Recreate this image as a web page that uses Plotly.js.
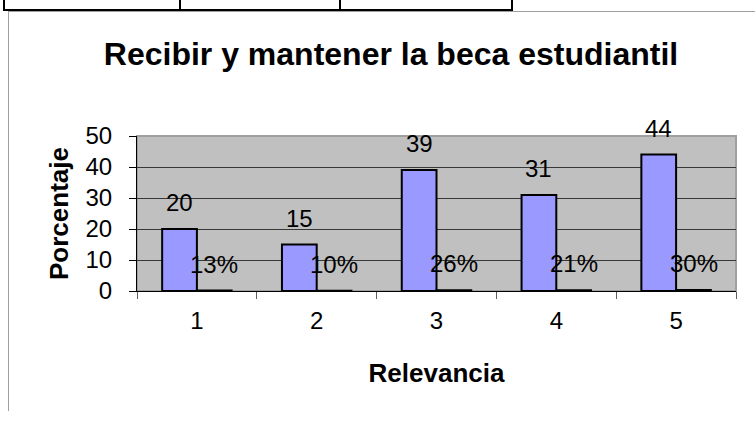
<!DOCTYPE html>
<html>
<head>
<meta charset="utf-8">
<script src="https://cdn.plot.ly/plotly-3.0.1.min.js"></script>
<style>
  html, body { margin: 0; padding: 0; background: #fff; }
  #wrap { position: relative; width: 755px; height: 423px; overflow: hidden; }
  #chart { position: absolute; left: 0; top: 0; width: 755px; height: 423px; }
  .ln { position: absolute; pointer-events: none; }
</style>
</head>
<body>
<div id="wrap">
  <div id="chart"></div>
  <!-- table fragment at top of the page -->
  <div class="ln" style="left:3px;top:9px;width:510px;height:2px;background:#000"></div>
  <div class="ln" style="left:3px;top:0;width:2px;height:11px;background:#000"></div>
  <div class="ln" style="left:179px;top:0;width:2px;height:10px;background:#000"></div>
  <div class="ln" style="left:339px;top:0;width:2px;height:10px;background:#000"></div>
  <div class="ln" style="left:511px;top:0;width:2px;height:11px;background:#000"></div>
  <!-- chart frame -->
  <div class="ln" style="left:8px;top:11px;width:747px;height:1px;background:#a0a0a0"></div>
  <div class="ln" style="left:8px;top:11px;width:1px;height:400px;background:#a0a0a0"></div>
</div>
<script>
const categories = ['1', '2', '3', '4', '5'];
const countValues = [20, 15, 39, 31, 44];
const shareValues = [0.13, 0.10, 0.26, 0.21, 0.30];
const yTickValues = [0, 10, 20, 30, 40, 50];

const countLabels = countValues.map(v => String(v));
const shareLabels = shareValues.map(v => Math.round(v * 100) + '%');

const FONT = 'Liberation Sans, Arial, Helvetica, sans-serif';

const traces = [
  {
    type: 'bar', x: categories, y: countValues, name: 'Cantidad',
    marker: { color: '#9999ff', line: { color: '#000000', width: 2 } },
    hoverinfo: 'x+y'
  },
  {
    type: 'bar', x: categories, y: shareValues, name: 'Porcentaje',
    marker: { color: '#993366', line: { color: '#000000', width: 2 } },
    hoverinfo: 'x+y'
  }
];

// annotations on a category axis use the category serial number
const halfBar = 17.4;
const annotations = [];
categories.forEach((c, i) => {
  annotations.push({
    x: i, y: countValues[i], xref: 'x', yref: 'y', text: countLabels[i],
    showarrow: false, xanchor: 'center', yanchor: 'bottom',
    xshift: -halfBar, yshift: 11,
    font: { family: FONT, size: 24, color: '#000' }
  });
  annotations.push({
    x: i, y: shareValues[i], xref: 'x', yref: 'y', text: shareLabels[i],
    showarrow: false, xanchor: 'center', yanchor: 'bottom',
    xshift: halfBar, yshift: 11,
    font: { family: FONT, size: 24, color: '#000' }
  });
});

const layout = {
  width: 755, height: 423,
  margin: { l: 137, r: 19, t: 136, b: 132, pad: 0 },
  paper_bgcolor: 'rgba(0,0,0,0)',
  plot_bgcolor: '#c0c0c0',
  showlegend: false,
  barmode: 'group',
  bargap: 0.42,
  bargroupgap: 0,
  font: { family: FONT, color: '#000' },
  title: {
    text: '<b>Recibir y mantener la beca estudiantil</b>',
    font: { family: FONT, size: 32, color: '#000' },
    xref: 'container', x: 391 / 755, xanchor: 'center',
    yref: 'container', y: 1 - 54 / 423, yanchor: 'middle'
  },
  xaxis: {
    type: 'category',
    categoryorder: 'array', categoryarray: categories,
    range: [-0.5, categories.length - 0.5],
    tickson: 'boundaries',
    ticks: 'outside', ticklen: 7, tickwidth: 1, tickcolor: '#606060',
    showline: true, linecolor: '#000', linewidth: 1,
    showgrid: false, zeroline: false,
    tickfont: { family: FONT, size: 24, color: '#000' },
    ticklabelstandoff: 8,
    title: {
      text: '<b>Relevancia</b>',
      font: { family: FONT, size: 26, color: '#000' },
      standoff: 31
    },
    fixedrange: true
  },
  yaxis: {
    range: [0, 50],
    tickmode: 'array', tickvals: yTickValues, ticktext: yTickValues.map(String),
    ticks: 'outside', ticklen: 7, tickwidth: 1, tickcolor: '#000',
    showline: true, linecolor: '#000', linewidth: 1,
    showgrid: true, gridcolor: '#383838', gridwidth: 1,
    zeroline: false,
    tickfont: { family: FONT, size: 24, color: '#000' },
    ticklabelstandoff: 12,
    title: {
      text: '<b>Porcentaje</b>',
      font: { family: FONT, size: 26, color: '#000' },
      standoff: 9
    },
    fixedrange: true
  },
  shapes: [
    {
      type: 'rect', xref: 'paper', yref: 'paper', x0: 0, x1: 1, y0: 0, y1: 1,
      line: { color: '#a0a0a0', width: 2 }, layer: 'between'
    }
  ],
  annotations: annotations
};

Plotly.newPlot('chart', traces, layout, { staticPlot: true, displayModeBar: false });
</script>
</body>
</html>
